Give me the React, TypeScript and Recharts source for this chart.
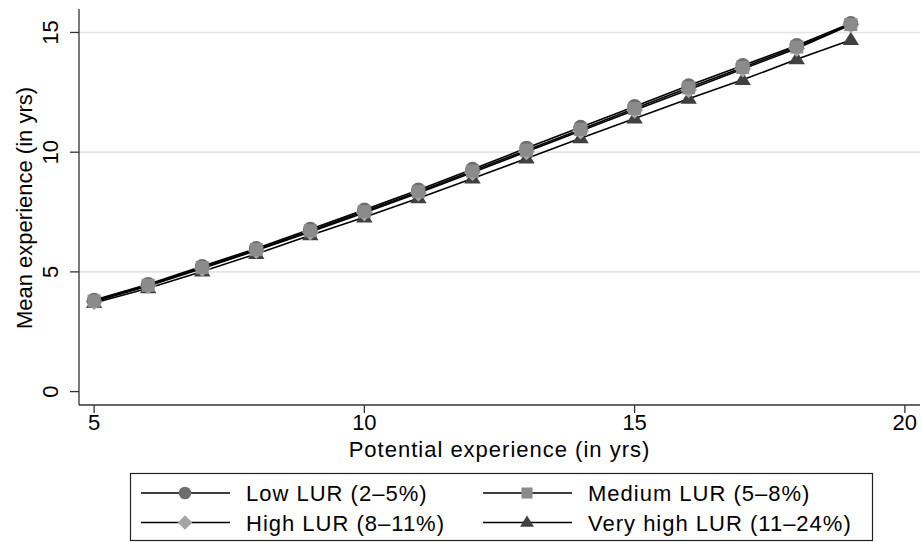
import React from 'react';
import { LineChart, Line, XAxis, YAxis, CartesianGrid, Label } from 'recharts';

const experience = [5, 6, 7, 8, 9, 10, 11, 12, 13, 14, 15, 16, 17, 18, 19];
const lowLUR = [3.82, 4.48, 5.23, 5.98, 6.78, 7.59, 8.42, 9.29, 10.17, 11.04, 11.91, 12.78, 13.62, 14.46, 15.38];
const mediumLUR = [3.78, 4.44, 5.18, 5.93, 6.72, 7.52, 8.35, 9.21, 10.08, 10.95, 11.82, 12.69, 13.54, 14.39, 15.33];
const highLUR = [3.75, 4.41, 5.14, 5.89, 6.67, 7.47, 8.29, 9.15, 10.02, 10.88, 11.75, 12.61, 13.47, 14.33, 15.32];
const veryHighLUR = [3.70, 4.32, 5.02, 5.75, 6.53, 7.28, 8.08, 8.90, 9.74, 10.58, 11.41, 12.23, 13.02, 13.88, 14.69];

const xTicks = [5, 10, 15, 20];
const yTicks = [0, 5, 10, 15];
const gridValues = [5, 10, 15];

const seriesLabels = ['Low LUR (2–5%)', 'Medium LUR (5–8%)', 'High LUR (8–11%)', 'Very high LUR (11–24%)'];

const data = experience.map((x, i) => ({
  x,
  low: lowLUR[i],
  medium: mediumLUR[i],
  high: highLUR[i],
  veryHigh: veryHighLUR[i],
}));

const FONT = '"Liberation Sans", Arial, Helvetica, sans-serif';

type Shape = 'circle' | 'square' | 'diamond' | 'triangle';

const COLORS: Record<Shape, string> = {
  circle: '#6e6e6e',
  square: '#8b8b8b',
  diamond: '#a6a6a6',
  triangle: '#404040',
};

function marker(shape: Shape, cx: number, cy: number, key?: string | number, scale = 1) {
  const fill = COLORS[shape];
  if (shape === 'circle') return <circle key={key} cx={cx} cy={cy} r={7.4 * scale} fill={fill} />;
  if (shape === 'square') {
    const s = 6.5 * scale;
    return <rect key={key} x={cx - s} y={cy - s} width={2 * s} height={2 * s} fill={fill} />;
  }
  if (shape === 'diamond') {
    const d = 8.5 * scale;
    return <polygon key={key} points={`${cx},${cy - d} ${cx + d},${cy} ${cx},${cy + d} ${cx - d},${cy}`} fill={fill} />;
  }
  const h = 8.2 * scale;
  const w = 8.2 * scale;
  return (
    <polygon
      key={key}
      points={`${cx},${cy - h} ${cx + w},${cy + 0.62 * h} ${cx - w},${cy + 0.62 * h}`}
      fill={fill}
    />
  );
}

const makeDot = (shape: Shape) => (props: any) => {
  const { cx, cy, index } = props;
  if (cx == null || cy == null) return <g key={`${shape}-${index}`} />;
  return marker(shape, cx, cy, `${shape}-${index}`);
};

const YTick = (props: any) => {
  const { x, y, payload } = props;
  const bx = x - 9.5;
  return (
    <text
      x={bx}
      y={y}
      transform={`rotate(-90, ${bx}, ${y})`}
      textAnchor="middle"
      fontSize={22}
      fontFamily={FONT}
      fill="#000"
    >
      {payload.value}
    </text>
  );
};

const YTitle = () => (
  <text
    x={31.5}
    y={208}
    transform="rotate(-90, 31.5, 208)"
    textAnchor="middle"
    fontSize={22}
    fontFamily={FONT}
    fill="#000"
  >
    Mean experience (in yrs)
  </text>
);

const legendItems: { label: string; shape: Shape; lineX: number; textX: number; y: number }[] = [
  { label: seriesLabels[0], shape: 'circle', lineX: 141, textX: 246, y: 493 },
  { label: seriesLabels[1], shape: 'square', lineX: 483, textX: 588, y: 493 },
  { label: seriesLabels[2], shape: 'diamond', lineX: 141, textX: 246, y: 522.5 },
  { label: seriesLabels[3], shape: 'triangle', lineX: 483, textX: 588, y: 522.5 },
];

const LegendBox = () => (
  <svg width={922} height={542} style={{ position: 'absolute', left: 0, top: 0, pointerEvents: 'none' }}>
    <rect x={130.5} y={473.5} width={742} height={67} fill="none" stroke="#222" strokeWidth={1.2} />
    {legendItems.map((it) => (
      <g key={it.label}>
        <line x1={it.lineX} y1={it.y} x2={it.lineX + 89} y2={it.y} stroke="#000" strokeWidth={1.6} />
        {marker(it.shape, it.lineX + 44, it.y, undefined, 0.85)}
        <text
          x={it.textX}
          y={it.y + 8}
          fontSize={22}
          fontFamily={FONT}
          letterSpacing={1}
          fill="#000"
        >
          {it.label}
        </text>
      </g>
    ))}
  </svg>
);

export default function App() {
  return (
    <div style={{ position: 'absolute', left: 0, top: 0, width: 922, height: 542, background: '#fff' }}>
      <LineChart
        width={922}
        height={542}
        data={data}
        margin={{ top: 9, right: 2, bottom: 77, left: 0 }}
      >
        <CartesianGrid
          vertical={false}
          horizontalValues={gridValues}
          stroke="#e4e4e4"
          strokeWidth={1.6}
        />
        <XAxis
          dataKey="x"
          type="number"
          domain={[4.72, 20.28]}
          ticks={xTicks}
          allowDataOverflow
          height={60}
          tickSize={8}
          tickMargin={1}
          stroke="#333"
          strokeWidth={1.3}
          tick={{ fill: '#000', fontSize: 22, fontFamily: FONT }}
        >
          <Label
            value="Potential experience (in yrs)"
            position="insideBottom"
            offset={8}
            style={{ fill: '#000', fontSize: 22, fontFamily: FONT, letterSpacing: 1 }}
          />
        </XAxis>
        <YAxis
          type="number"
          domain={[-0.56, 15.98]}
          ticks={yTicks}
          allowDataOverflow
          width={79}
          tickSize={9}
          stroke="#333"
          strokeWidth={1.3}
          tick={<YTick />}
        >
          <Label content={<YTitle />} />
        </YAxis>
        <Line dataKey="veryHigh" stroke="#000" strokeWidth={1.6} dot={makeDot('triangle')} isAnimationActive={false} />
        <Line dataKey="high" stroke="#000" strokeWidth={1.6} dot={makeDot('diamond')} isAnimationActive={false} />
        <Line dataKey="low" stroke="#000" strokeWidth={1.6} dot={makeDot('circle')} isAnimationActive={false} />
        <Line dataKey="medium" stroke="#000" strokeWidth={1.6} dot={makeDot('square')} isAnimationActive={false} />
      </LineChart>
      <LegendBox />
    </div>
  );
}
